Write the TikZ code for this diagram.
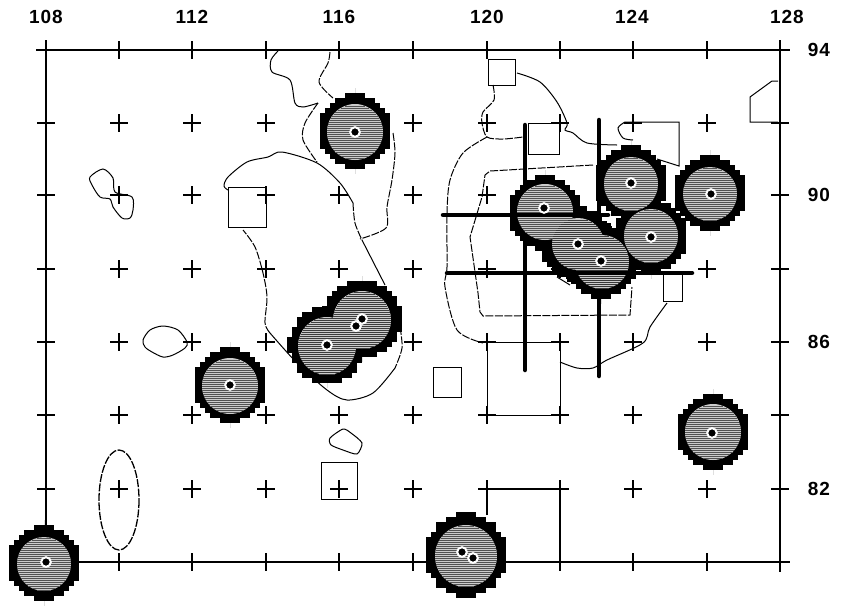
\documentclass[tikz,border=0pt]{standalone}
\usepackage{fontspec}
\setmainfont{Liberation Sans}
\tikzset{
  gridmark/.style={black, line width=1.1pt},
  frameline/.style={black, line width=1.5pt},
  boxline/.style={black, line width=1pt},
  coast/.style={black, line width=1pt},
  coastdash/.style={coast, dash pattern=on 8pt off 1.5pt},
  heavyline/.style={black, line width=4.5pt, line cap=round},
  degree/.style={font=\bfseries\fontsize{19}{19}\selectfont\addfontfeature{LetterSpace=5}, inner sep=0pt},
}
% stepped black disk, x y radius
\newcommand{\spotblack}[3]{
  \foreach \k [evaluate=\k as \hw using {5*round(sqrt(max(#3*#3-25*\k*\k,0))/5)}] in {-8,...,8}
    \fill[black] ({#1-\hw},{#2+5*\k-2.8}) rectangle ({#1+\hw},{#2+5*\k+2.8});
}
% hatching of a core, x y radius shade
\newcommand{\spothatch}[4]{
  \foreach \k [evaluate=\k as \hw using {sqrt(max(#3*#3-4*\k*\k,0))}] in {-16,...,16}
    \draw[black!#4, line width=1pt] ({#1-\hw},{#2+2*\k}) -- ({#1+\hw},{#2+2*\k});
}
\newcommand{\spoteye}[2]{
  \fill[black] (#1,#2) circle (4.8);
  \draw[white, line width=2pt] (#1,#2) circle (4.8);
}
\begin{document}
\begin{tikzpicture}[x=1pt,y=-1pt]
  \useasboundingbox (0,0) rectangle (843,606);
  \fill[white] (0,0) rectangle (843,606);

  % map frame
  \draw[frameline] (36,50) -- (790,50);
  \draw[frameline] (36,562) -- (790,562);
  \draw[frameline] (46,40) -- (46,570);
  \draw[frameline] (780,40) -- (780,572);
  \foreach \x in {46,119,192,266,339,413,487,560,633,707,780}
    \foreach \y in {50,123,195,269,342,415,489,562}{
      \draw[gridmark] (\x-9,\y) -- (\x+9,\y);
      \draw[gridmark] (\x,\y-9) -- (\x,\y+9);
    }

  % labels
  \foreach \x/\lab in {46/108,192/112,339/116,487/120,632/124,787/128}
    \node[degree] (lon\lab) at (\x,17) {\lab};
  \foreach \y/\lab in {50/94,195/90,342/86,489/82}
    \node[degree] (lat\lab) at (819,\y) {\lab};

  % boxes
  \draw[boxline] (488,59) rectangle (515,85);
  \draw[boxline] (528,123) rectangle (559,154);
  \draw[boxline] (228,187) rectangle (266,227);
  \draw[boxline] (433,367) rectangle (461,397);
  \draw[boxline] (321,462) rectangle (357,499);
  \draw[boxline] (663,272) rectangle (682,301);
  \draw[boxline] (487,342) rectangle (560,415);
  \draw[boxline] (625,122) -- (679,122) -- (679,166) -- (657,159);
  \draw[boxline] (778,122) -- (750,122) -- (750,97) -- (772,81) -- (778,81);
  \draw[line width=1.3pt] (487,515) -- (487,489) -- (560,489) -- (560,562);

  % islands
  \draw[coast] plot[smooth cycle] coordinates {(90,177) (103,169) (113,178) (115,192) (132,197) (133,210) (130,218) (122,218) (113,207) (110,199) (100,197) (92,185)};
  \draw[coast] plot[smooth cycle] coordinates {(143,340) (150,330) (163,326) (178,330) (187,342) (185,348) (173,355) (163,357) (152,352) (145,347)};
  \draw[coast] plot[smooth cycle, tension=0.4] coordinates {(343,429) (351,433) (362,443) (357,454) (343,450) (331,445) (330,438)};
  \draw[coastdash, line width=1.3pt] (119,500) ellipse (20 and 50);

  % coast round the left basin
  \draw[coast] plot[smooth] coordinates {(278,51) (271,60) (272,72) (290,80) (295,103) (303,107) (318,103)};
  \draw[coastdash] plot[smooth] coordinates {(318,103) (305,123) (303,140) (317,162)};
  \draw[coastdash] plot[smooth] coordinates {(330,52) (328,63) (319,82) (333,98)};
  \draw[coastdash] plot[smooth] coordinates {(393,133) (395,153) (392,180) (387,207) (386,228) (360,239)};
  \draw[coast] plot[smooth] coordinates {(228,190) (224,186) (228,177) (247,162) (268,157) (282,152) (317,163) (340,183) (353,203)};
  \draw[coastdash] plot[smooth] coordinates {(353,203) (355,223) (362,240)};
  \draw[coast] plot[smooth] coordinates {(362,240) (385,285)};
  \draw[coastdash] plot[smooth] coordinates {(400,327) (402,348) (395,368)};
  \draw[coast] plot[smooth] coordinates {(395,368) (373,393) (347,400) (327,390) (297,363) (270,333)};
  \draw[coastdash] plot[smooth] coordinates {(270,333) (265,323) (267,297) (263,273) (255,247) (243,230)};

  % coast round the right basin
  \draw[coast] plot[smooth] coordinates {(517,73) (540,82) (557,102) (567,123) (565,130) (573,133) (587,143) (617,145)};
  \draw[coastdash] plot[smooth] coordinates {(493,85) (494,100) (483,112) (482,123) (487,137) (503,139) (523,137)};
  \draw[coastdash] plot[smooth] coordinates {(487,137) (463,153) (450,180) (447,213) (447,267) (445,287) (457,330) (483,343)};
  \draw[coast] plot[smooth] coordinates {(560,362) (577,368) (593,368) (607,360) (643,343) (650,327) (667,303)};
  \draw[coast] plot[smooth] coordinates {(625,122) (618,128) (623,138) (633,140)};
  \draw[coast] plot[smooth] coordinates {(557,277) (570,285)};
  \draw[coastdash] (593,165) -- (490,171) -- (485,175) -- (482,197) -- (470,237) -- (478,293) -- (480,312) -- (483,316) -- (630,315) -- (632,287);

  % heavy lines
  \draw[heavyline] (525,125) -- (525,370);
  \draw[heavyline] (599,120) -- (599,376);

  % hot spots
  \foreach \x/\y/\r in {355/131/37,230/385/37,327/345/38,362/319/39,44/563/37,466/555/41,713/432/37,545/213/37,577/244/37,601/261/37,631/183/37,651/236/37,710/193/36}{
    \spotblack{\x}{\y}{\r}
  }
  \foreach \x/\y/\r in {355/132/28,230/386/28,362/320/29,327/346/29,44/564/27,466/556/31,713/432/28,545/212/28,631/184/27,651/236/27,710/194/27,578/244/26,602/262/27}{
    \fill[gray!40] (\x,\y) circle (\r);
  }
  \foreach \x/\y/\r/\dark in {355/132/28/68,230/386/28/68,362/320/29/76,327/346/29/76,44/564/27/68,466/556/31/68,713/432/28/68,545/212/28/68,631/184/27/68,651/236/27/68,710/194/27/68,578/244/26/78,602/262/27/78}{
    \spothatch{\x}{\y}{\r}{\dark}
  }
  \draw[heavyline] (443,215) -- (608,215);
  \draw[heavyline] (447,273) -- (692,273);
  \foreach \x/\y in {355/132,230/385,327/345,362/319,356/326,46/562,462/552,473/558,712/433,544/208,578/244,601/261,631/183,651/237,711/194}{
    \spoteye{\x}{\y}
  }
\end{tikzpicture}
\end{document}
